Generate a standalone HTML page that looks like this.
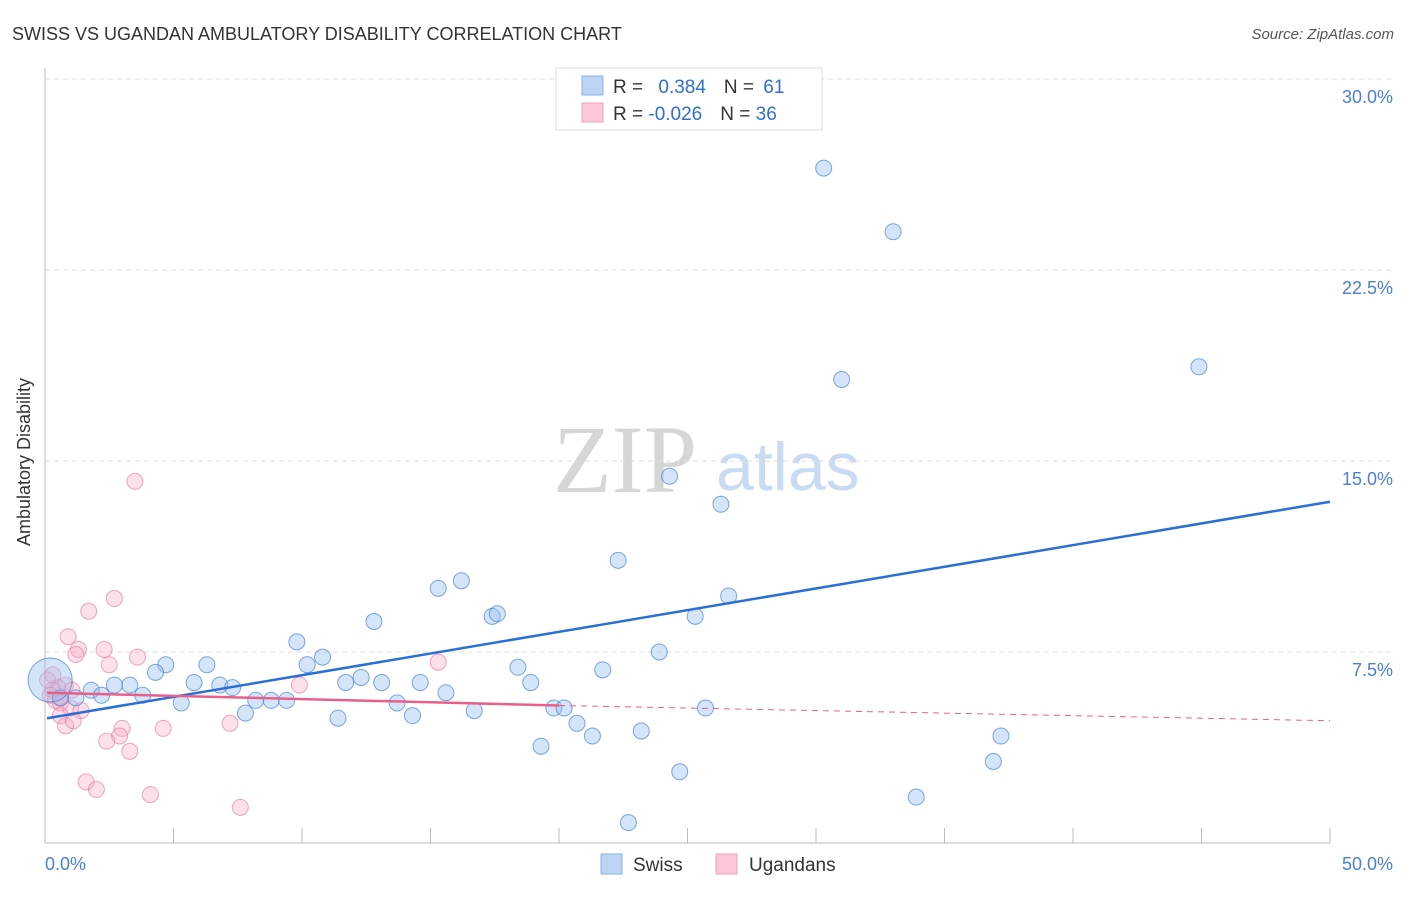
<!DOCTYPE html>
<html><head><meta charset="utf-8"><style>
body{margin:0;background:#fff;font-family:"Liberation Sans",sans-serif}
svg text{font-family:"Liberation Sans",sans-serif}
</style></head><body>
<svg width="1406" height="892">
<text x="12" y="40" font-size="18" fill="#333">SWISS VS UGANDAN AMBULATORY DISABILITY CORRELATION CHART</text>
<text x="1394" y="39" font-size="15" fill="#555" text-anchor="end" font-style="italic">Source: ZipAtlas.com</text>
<text x="553" y="492" font-size="96" fill="#d6d6d6" style="font-family:'Liberation Serif',serif">ZIP</text>
<text x="716" y="490" font-size="68" fill="#c9dbf3">atlas</text>
<g id="grid"></g>
<line x1="45" y1="68" x2="45" y2="843" stroke="#bbb"/>
<line x1="45" y1="843" x2="1330" y2="843" stroke="#bbb"/>
<g id="ticks"></g>
<text x="24" y="456" font-size="18" fill="#333" transform="rotate(-90 30 456)" text-anchor="middle">Ambulatory Disability</text>
<text x="45" y="870" font-size="18" fill="#4a7fd4">0.0%</text>
<text x="1393" y="870" font-size="18" fill="#4a7fd4" text-anchor="end">50.0%</text>
<g id="pts"></g>
<g id="lines"></g>
<g>
<rect x="556" y="68" width="266" height="62" fill="#fff" stroke="#ddd"/>
<rect x="582" y="76" width="21" height="19" fill="#bcd5f5" stroke="#8ab0e8"/>
<rect x="582" y="103" width="21" height="19" fill="#fcc9d8" stroke="#f0a0b8"/>
<text x="613" y="93" font-size="19" fill="#333">R = <tspan fill="#2f6fd0" dx="10">0.384</tspan><tspan dx="18" fill="#333">N = </tspan><tspan fill="#2f6fd0" dx="4">61</tspan></text>
<text x="613" y="120" font-size="19" fill="#333">R = <tspan fill="#2f6fd0">-0.026</tspan><tspan dx="18" fill="#333">N = </tspan><tspan fill="#2f6fd0">36</tspan></text>
</g>
<g>
<rect x="601" y="854" width="21" height="20" fill="#bcd5f5" stroke="#8ab0e8"/>
<text x="633" y="871" font-size="19" fill="#333">Swiss</text>
<rect x="716" y="854" width="21" height="20" fill="#fcc9d8" stroke="#f0a0b8"/>
<text x="749" y="871" font-size="19" fill="#333">Ugandans</text>
</g>
</svg>
<script>
const yTicks=[7.5,15,22.5,30];
const xTicks=[0,5,10,15,20,25,30,35,40,45,50];
const swissX=[30.3,33.0,31.0,44.9,24.3,26.3,22.3,16.2,15.3,17.4,17.6,12.8,25.3,26.6,9.8,10.8,10.2,4.7,6.3,4.3,18.4,21.7,23.9,12.3,13.1,14.6,18.9,11.7,5.8,6.8,7.3,3.3,2.7,3.8,1.8,2.2,1.2,5.3,8.2,8.8,9.4,13.7,15.6,19.8,20.2,25.7,16.7,14.3,7.8,11.4,20.7,21.3,23.2,19.3,37.2,24.7,36.9,33.9,22.7,0.6,0.2];
const swissY=[26.5,24.0,18.2,18.7,14.4,13.3,11.1,10.3,10.0,8.9,9.0,8.7,8.9,9.7,7.9,7.3,7.0,7.0,7.0,6.7,6.9,6.8,7.5,6.5,6.3,6.3,6.3,6.3,6.3,6.2,6.1,6.2,6.2,5.8,6.0,5.8,5.7,5.5,5.6,5.6,5.6,5.5,5.9,5.3,5.3,5.3,5.2,5.0,5.1,4.9,4.7,4.2,4.4,3.8,4.2,2.8,3.2,1.8,0.8,5.7,6.4];
const swissR=[8,8,8,8,8,8,8,8,8,8,8,8,8,8,8,8,8,8,8,8,8,8,8,8,8,8,8,8,8,8,8,8,8,8,8,8,8,8,8,8,8,8,8,8,8,8,8,8,8,8,8,8,8,8,8,8,8,8,8,8,22];
const ugX=[3.5,2.7,1.7,0.9,1.3,1.2,2.3,2.5,3.6,9.9,15.3,0.8,0.5,0.3,0.2,0.4,0.6,1.0,1.4,0.6,0.8,1.1,0.1,0.3,7.2,4.6,3.0,2.9,2.4,3.3,1.6,2.0,4.1,7.6,0.6,1.05];
const ugY=[14.2,9.6,9.1,8.1,7.6,7.4,7.6,7.0,7.3,6.2,7.1,6.2,6.1,6.0,5.8,5.6,5.5,5.3,5.2,5.0,4.6,4.8,6.4,6.6,4.7,4.5,4.5,4.2,4.0,3.6,2.4,2.1,1.9,1.4,5.7,6.0];
const blueLine=[0,4.9,50,13.4];
const pinkLine=[0,5.9,20,5.4,50,4.8];
const L=45,R=1330,T=79,B=843;
const sx=v=>L+v/50*(R-L), sy=v=>B-v/30*(B-T);
const NS="http://www.w3.org/2000/svg";
function mk(t,a,p){const e=document.createElementNS(NS,t);for(const k in a)e.setAttribute(k,a[k]);document.getElementById(p).appendChild(e);return e;}
yTicks.forEach(v=>{
 const l=mk('line',{x1:L,x2:1394,y1:sy(v),y2:sy(v),stroke:'#ddd','stroke-dasharray':'5,4'},'grid');
 
 
 const t=mk('text',{x:1393,y:sy(v)+24,'font-size':18,fill:'#4a7fd4','text-anchor':'end'},'grid');
 t.textContent=v.toFixed(1)+'%';
 
 
});
xTicks.forEach(v=>{
 const l=mk('line',{x1:sx(v),x2:sx(v),y1:828,y2:843,stroke:'#bbb'},'ticks');
 
 
});
ugX.forEach((x,i)=>{
 const c=mk('circle',{cx:sx(x),cy:sy(ugY[i]),r:8,fill:'rgba(248,170,195,0.35)',stroke:'rgba(232,110,150,0.6)'},'pts');
 
 
});
swissX.forEach((x,i)=>{
 const c=mk('circle',{cx:sx(x),cy:sy(swissY[i]),r:swissR[i],fill:'rgba(150,190,240,0.4)',stroke:'rgba(70,130,215,0.7)'},'pts');
 
 
});
let b=mk('line',{x1:sx(blueLine[0])+2,y1:sy(blueLine[1]),x2:sx(blueLine[2]),y2:sy(blueLine[3]),stroke:'#2a6fd6','stroke-width':2.5},'lines');


let p1=mk('line',{x1:sx(pinkLine[0])+2,y1:sy(pinkLine[1]),x2:sx(pinkLine[2]),y2:sy(pinkLine[3]),stroke:'#e8608a','stroke-width':2.5},'lines');


let p2=mk('line',{x1:sx(pinkLine[2]),y1:sy(pinkLine[3]),x2:sx(pinkLine[4]),y2:sy(pinkLine[5]),stroke:'#e8608a','stroke-width':1,'stroke-dasharray':'6,5'},'lines');


</script>
</body></html>
